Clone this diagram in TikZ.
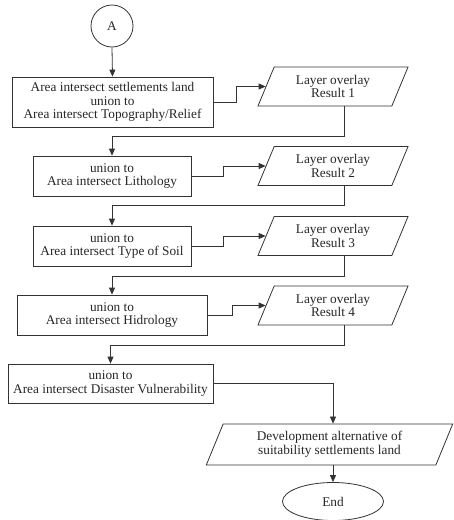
\documentclass[tikz,border=0pt]{standalone}
\usepackage{fontspec}
\setmainfont{Liberation Serif}
\usetikzlibrary{shapes.geometric,arrows.meta,calc}
\begin{document}
\begin{tikzpicture}[x=1pt,y=-1pt,
  every node/.style={font=\fontsize{13.3}{13.6}\selectfont, text=black!85, align=center},
  procbox/.style={draw=black!80, line width=0.8pt, rectangle, inner sep=0pt},
  iobox/.style={draw=black!80, line width=0.8pt, trapezium, trapezium left angle=66, trapezium right angle=114, trapezium stretches=true, inner sep=0pt},
  conn/.style={draw=black!80, line width=0.8pt},
  arr/.style={conn, -{Triangle[length=7pt,width=6pt]}}
]
\useasboundingbox (0,0) rectangle (454,520);
\node[draw=black!80, line width=0.8pt, circle, minimum size=42pt, inner sep=0pt] (a) at (112,26) {A};
\node[procbox, minimum width=201pt, minimum height=50pt] (b1) at (112.5,102) {Area intersect settlements land\\union to\\Area intersect Topography/Relief};
\node[iobox, minimum width=151pt, minimum height=39pt] (p1) at (333,86.5) {Layer overlay\\Result 1};
\node[procbox, minimum width=158pt, minimum height=40pt] (b2) at (112,176) {union to\\Area intersect Lithology};
\node[iobox, minimum width=151pt, minimum height=39pt] (p2) at (333,166) {Layer overlay\\Result 2};
\node[procbox, minimum width=158pt, minimum height=40pt] (b3) at (112,246) {union to\\Area intersect Type of Soil};
\node[iobox, minimum width=151pt, minimum height=39pt] (p3) at (333,236) {Layer overlay\\Result 3};
\node[procbox, minimum width=190pt, minimum height=40pt] (b4) at (112,315) {union to\\Area intersect Hidrology};
\node[iobox, minimum width=151pt, minimum height=39pt] (p4) at (333,305.5) {Layer overlay\\Result 4};
\node[procbox, minimum width=205pt, minimum height=39pt] (b5) at (110.5,383.5) {union to\\Area intersect Disaster Vulnerability};
\node[iobox, minimum width=247pt, minimum height=41pt] (p5) at (329.5,444.5) {Development alternative of\\suitability settlements land};
\node[draw=black!80, line width=0.8pt, ellipse, minimum width=101pt, minimum height=38pt, inner sep=0pt] (e) at (333,501.5) {End};

\draw[arr] (a.south) -- (b1.north);
\draw[arr] (b1.east) -- ++(23,0) |- (p1.west);
\draw[arr] ([xshift=11pt]p1.south) -- ++(0,30) -| (b2.north);
\draw[arr] (b2.east) -- ++(32,0) |- (p2.west);
\draw[arr] ([xshift=11pt]p2.south) -- ++(0,19.5) -| (b3.north);
\draw[arr] (b3.east) -- ++(32,0) |- (p3.west);
\draw[arr] ([xshift=11pt]p3.south) -- ++(0,20) -| (b4.north);
\draw[arr] (b4.east) -- ++(25,0) |- (p4.west);
\draw[arr] ([xshift=11pt]p4.south) -- ++(0,20) -| (b5.north);
\draw[arr] (b5.east) -| (p5.north -| e.north);
\draw[arr] (p5.south -| e.north) -- (e.north);
\end{tikzpicture}
\end{document}
